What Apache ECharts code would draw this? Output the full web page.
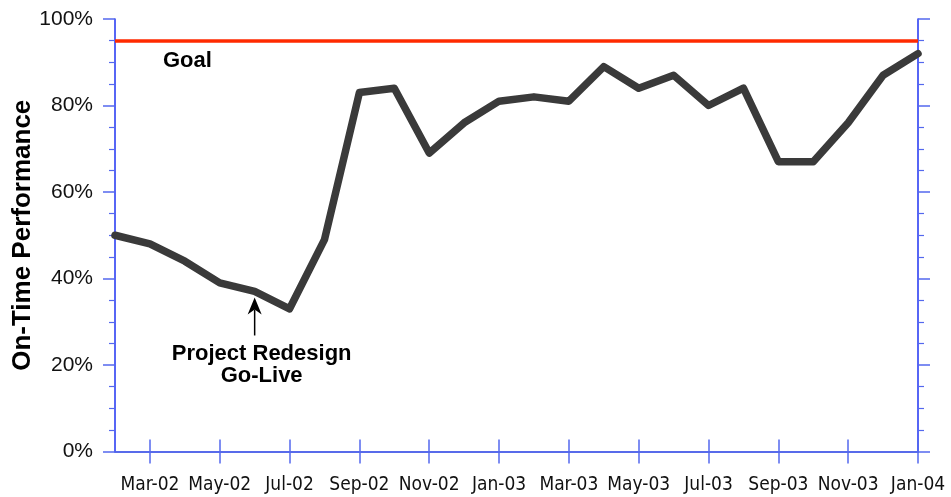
<!DOCTYPE html>
<html><head><meta charset="utf-8">
<script src="https://cdn.jsdelivr.net/npm/echarts@6/dist/echarts.min.js"></script>
<style>html,body{margin:0;padding:0;background:#fff}#c{width:951px;height:497px}</style>
</head><body><div id="c"></div>
<script>
const months = ['Feb-02','Mar-02','Apr-02','May-02','Jun-02','Jul-02','Aug-02','Sep-02','Oct-02','Nov-02','Dec-02',
  'Jan-03','Feb-03','Mar-03','Apr-03','May-03','Jun-03','Jul-03','Aug-03','Sep-03','Oct-03','Nov-03','Dec-03','Jan-04'];
const onTime = [50,48,44,39,37,33,49,83,84,69,76,81,82,81,89,84,87,80,84,67,67,76,87,92];
const goal = 95;
const goalLabel = 'Goal';
const goLiveMonth = 'Jun-02';
const goLiveText = 'Project Redesign\nGo-Live';
const yTickValues = [0,20,40,60,80,100];

const AXIS = '#1f33f2', TICK = '#5468ee', TOPAXIS = '#5a6ee6';
const oddOnly = (i) => i % 2 === 1;
const chart = echarts.init(document.getElementById('c'));
chart.setOption({
  animation: false,
  backgroundColor: '#fff',
  grid: {left: 115, right: 33, top: 19, bottom: 45.5, containLabel: false, outerBoundsMode: 'none'},
  xAxis: [{
    type: 'category', data: months, boundaryGap: false, position: 'bottom',
    axisLine: {show: true, lineStyle: {color: AXIS, width: 1.5}},
    axisTick: {show: true, inside: false, length: 12, interval: oddOnly, lineStyle: {color: TICK, width: 1.5}},
    axisLabel: {show: true, interval: oddOnly, margin: 24, color: '#111', hideOverlap: false,
      fontFamily: '"Liberation Sans Narrow","DejaVu Sans Condensed",sans-serif', fontSize: 19},
    splitLine: {show: false}
  }, {
    type: 'category', data: months, boundaryGap: false, position: 'top',
    axisLine: {show: true, lineStyle: {color: TOPAXIS, width: 1.5}},
    axisTick: {show: true, inside: false, length: 12, interval: oddOnly, lineStyle: {color: TICK, width: 1.5}},
    axisLabel: {show: false}, splitLine: {show: false}
  }],
  yAxis: [{
    type: 'value', min: 0, max: 100, interval: 20, position: 'left',
    name: 'On-Time Performance', nameLocation: 'middle', nameRotate: 90, nameGap: 79, nameMoveOverlap: false,
    nameTextStyle: {fontFamily: '"Liberation Sans",Arial,sans-serif', fontWeight: 'bold', fontSize: 26, color: '#000'},
    axisLine: {show: true, lineStyle: {color: AXIS, width: 1.5}},
    axisTick: {show: true, inside: false, length: 12, lineStyle: {color: TICK, width: 1.5}},
    minorTick: {show: true, splitNumber: 4, length: 6, lineStyle: {color: TICK, width: 1.2}},
    axisLabel: {show: true, margin: 22, color: '#111', formatter: (v) => yTickValues.includes(v) ? v + '%' : '',
      fontFamily: '"Liberation Sans",Arial,sans-serif', fontSize: 21},
    splitLine: {show: false}, minorSplitLine: {show: false}
  }, {
    type: 'value', min: 0, max: 100, interval: 20, position: 'right',
    axisLine: {show: true, lineStyle: {color: AXIS, width: 1.5}},
    axisTick: {show: true, inside: false, length: 12, lineStyle: {color: TICK, width: 1.5}},
    minorTick: {show: true, splitNumber: 4, length: 6, lineStyle: {color: TICK, width: 1.2}},
    axisLabel: {show: false}, splitLine: {show: false}
  }],
  series: [{
    type: 'line', name: 'On-Time Performance', data: onTime, xAxisIndex: 0, yAxisIndex: 0,
    symbol: 'none', smooth: false,
    lineStyle: {color: '#3a3a3a', width: 7.5, cap: 'round', join: 'round'},
    markLine: {
      silent: true, symbol: ['none','none'], label: {show: false},
      lineStyle: {color: '#ff2a00', width: 3.5, type: 'solid'},
      data: [{yAxis: goal}]
    },
    z: 3
  }]
});

function drawAnnotations() {
  const x0 = chart.convertToPixel({xAxisIndex: 0}, months[0]);
  const yGoal = chart.convertToPixel({yAxisIndex: 0}, goal);
  const gi = months.indexOf(goLiveMonth);
  const gx = chart.convertToPixel({xAxisIndex: 0}, goLiveMonth);
  const gy = chart.convertToPixel({yAxisIndex: 0}, onTime[gi]);
  const tip = gy + 6;
  const boldFont = 'bold 22px "Liberation Sans", Arial, sans-serif';
  chart.setOption({
    graphic: [
      {type: 'text', left: x0 + 48, top: yGoal + 9, z: 10,
        style: {text: goalLabel, font: boldFont, fill: '#000'}},
      {type: 'line', z: 10, shape: {x1: gx, y1: tip + 12, x2: gx, y2: tip + 38},
        style: {stroke: '#000', lineWidth: 1.5}},
      {type: 'polygon', z: 10, shape: {points: [[gx, tip], [gx - 7, tip + 17], [gx, tip + 12], [gx + 7, tip + 17]]},
        style: {fill: '#000'}},
      {type: 'text', z: 10, x: gx + 7, y: tip + 45,
        style: {text: goLiveText, font: boldFont, fill: '#000', align: 'center', verticalAlign: 'top', lineHeight: 22}}
    ]
  });
}
drawAnnotations();
</script>
</body></html>
